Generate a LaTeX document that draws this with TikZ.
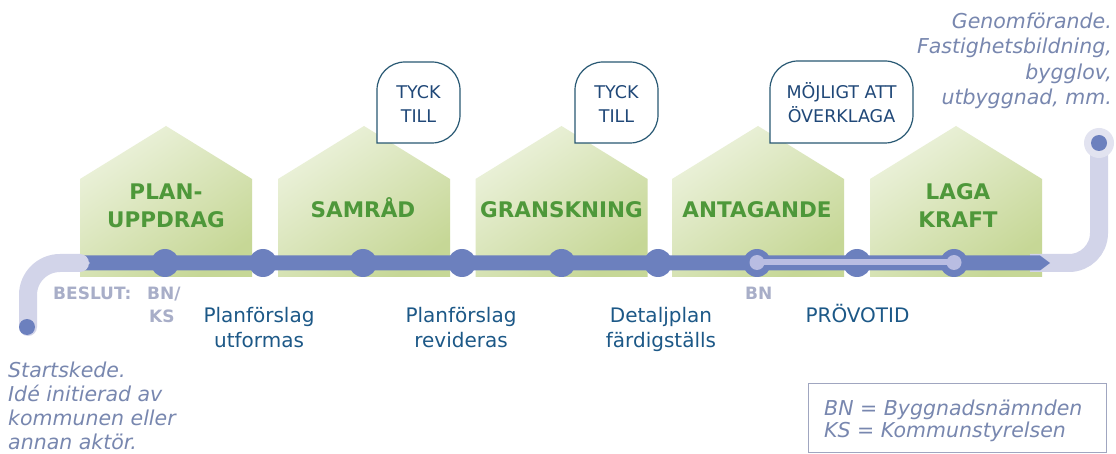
\documentclass[tikz,border=0pt]{standalone}
\usepackage{fontspec}
\setmainfont{DejaVu Sans}
\definecolor{linec}{RGB}{108,128,190}
\definecolor{lightp}{RGB}{210,212,233}
\definecolor{halo}{RGB}{226,227,240}
\definecolor{provc}{RGB}{185,189,226}
\definecolor{housetop}{RGB}{236,242,220}
\definecolor{housebot}{RGB}{198,215,150}
\definecolor{greentxt}{RGB}{78,152,58}
\definecolor{navytxt}{RGB}{32,72,120}
\definecolor{tealtxt}{RGB}{28,88,135}
\definecolor{greytxt}{RGB}{120,135,175}
\definecolor{palebold}{RGB}{168,174,200}
\definecolor{bubbleline}{RGB}{40,88,115}
\definecolor{legendline}{RGB}{160,166,192}
\newcommand\mybubble[4]{%
  \draw[bubble] (#1,#4) -- (#1,{#2+28}) .. controls (#1,{#2+12.5}) and ({#1+12.5},#2) .. ({#1+28},#2)
    -- ({#3-28},#2) .. controls ({#3-12.5},#2) and (#3,{#2+12.5}) .. (#3,{#2+28})
    -- (#3,{#4-28}) .. controls (#3,{#4-12.5}) and ({#3-12.5},#4) .. ({#3-28},#4) -- cycle;}
\begin{document}
\begin{tikzpicture}[x=1pt,y=-1pt,
  house/.style={top color=housetop,bottom color=housebot,shading angle=35,draw=none},
  bubble/.style={draw=bubbleline,line width=1.2pt,fill=white},
  glabel/.style={font=\fontsize{21.5}{28}\selectfont\bfseries,text=greentxt,align=center,anchor=base,inner sep=0pt},
  blabel/.style={font=\fontsize{17.5}{24}\selectfont,text=navytxt,align=center,anchor=base,inner sep=0pt},
  tlabel/.style={font=\fontsize{20}{25}\selectfont,text=tealtxt,align=center,anchor=base,inner sep=0pt},
  plabel/.style={font=\fontsize{17}{23}\selectfont\bfseries,text=palebold,align=left,anchor=base west,inner sep=0pt},
  itext/.style={font=\fontsize{20.5}{24}\selectfont\itshape,text=greytxt,inner sep=0pt},
  dot/.style={fill=linec}]
\useasboundingbox (0,0) rectangle (1116,454);
\fill[white] (0,0) rectangle (1116,454);
% houses
\foreach \c in {166,364,561.5,758,956} {
  \shade[house] ({\c-86},277) -- ({\c-86},179) -- (\c,126) -- ({\c+86},179) -- ({\c+86},277) -- cycle;
}
% right light path
\draw[lightp,line width=18pt,rounded corners=30pt] (1030,263) -- (1099,263) -- (1099,150);
\fill[halo] (1099,143) circle (15);
\fill[dot] (1099,143) circle (8);
% main line
\fill[linec] (80,255.5) -- (1040,255.5) -- (1050,263) -- (1040,270.5) -- (80,270.5) -- cycle;
% left light path
\draw[lightp,line width=18pt,rounded corners=32pt,line cap=round] (28,327) -- (28,263) -- (80,263);
\fill[lightp] (79,254) -- (90,263) -- (79,272) -- cycle;
\fill[dot] (27,327) circle (8);
% dots
\foreach \x in {165,263,363,462,561.5,658,757,857,954} \fill[dot] (\x,263) circle (14);
% provotid
\draw[provc,line width=6pt] (757,262.5) -- (954,262.5);
\fill[provc] (757,262.5) circle (7.5);
\fill[provc] (954,262.5) circle (7.5);
% callouts
\mybubble{377}{62}{460}{143}
\mybubble{575}{62}{658}{143}
\mybubble{770}{61}{913}{143}
\node[blabel] (tyck1) at (418.5,123) {TYCK\\TILL};
\node[blabel] (tyck2) at (616.5,123) {TYCK\\TILL};
\node[blabel] (overkl) at (841.5,123) {MÖJLIGT ATT\\ÖVERKLAGA};
% green labels
\node[glabel] (planupp) at (166,228) {PLAN-\\UPPDRAG};
\node[glabel] (samrad) at (363,218) {SAMRÅD};
\node[glabel] (gransk) at (561.5,218) {GRANSKNING};
\node[glabel] (antag) at (757,218) {ANTAGANDE};
\node[glabel] (laga) at (958,228) {LAGA\\KRAFT};
% lower labels
\node[plabel] (beslut) at (53,299) {BESLUT:};
\node[plabel] (bnks) at (147,322) {BN/\\\hspace{2pt}KS};
\node[plabel] (bn) at (745,299) {BN};
\node[tlabel] (utform) at (259,347) {Planförslag\\utformas};
\node[tlabel] (revid) at (461,347) {Planförslag\\revideras};
\node[tlabel] (detalj) at (661,347) {Detaljplan\\färdigställs};
\node[tlabel] (provo) at (857.5,322) {PRÖVOTID};
% italic texts
\node[itext,align=left,anchor=base west] (start) at (8,449) {Startskede.\\Idé initierad av\\kommunen eller\\annan aktör.};
\node[itext,align=right,anchor=base east,font=\fontsize{20.5}{25.5}\selectfont\itshape] (genom) at (1112,105) {Genomförande.\\Fastighetsbildning,\\bygglov,\\utbyggnad, mm.};
% legend
\draw[legendline,line width=0.8pt] (808,383) rectangle (1106,452);
\node[itext,align=left,anchor=base west,font=\fontsize{20.5}{22}\selectfont\itshape] (legend) at (824,437) {BN = Byggnadsnämnden\\KS = Kommunstyrelsen};
\end{tikzpicture}
\end{document}
